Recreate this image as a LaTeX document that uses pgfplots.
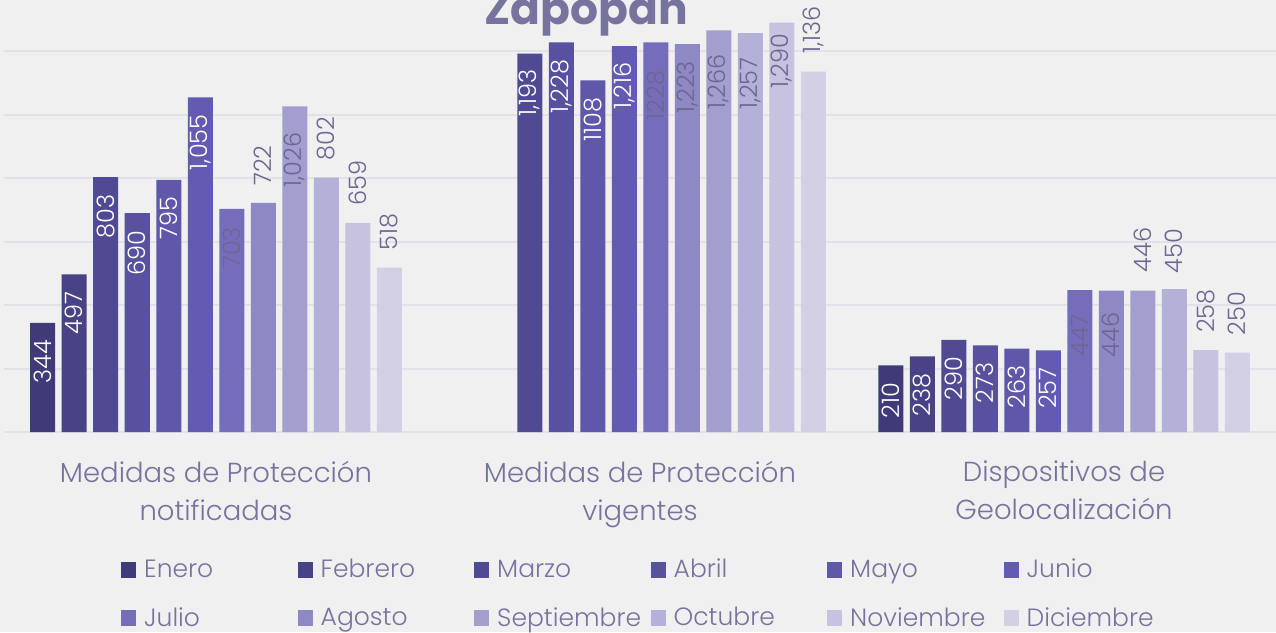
\documentclass[border=0pt]{standalone}
\usepackage{fontspec}
\setmainfont{Poppins}
\newfontfamily\lightfont{Poppins Light}
\usepackage{pgfplots}
\usepackage{pgfplotstable}
\pgfplotsset{compat=1.18}

\definecolor{c1}{HTML}{3F3A78}
\definecolor{c2}{HTML}{484386}
\definecolor{c3}{HTML}{504A93}
\definecolor{c4}{HTML}{57519E}
\definecolor{c5}{HTML}{5E57AA}
\definecolor{c6}{HTML}{635BB2}
\definecolor{c7}{HTML}{756DBA}
\definecolor{c8}{HTML}{8E88C4}
\definecolor{c9}{HTML}{A39ECE}
\definecolor{c10}{HTML}{B4B0D7}
\definecolor{c11}{HTML}{C6C2E0}
\definecolor{c12}{HTML}{D3D0E6}
\definecolor{bg}{HTML}{F0F0F0}
\definecolor{gridc}{HTML}{E2E0E9}
\definecolor{txt}{HTML}{77739F}
\definecolor{labc}{HTML}{6B6790}

\pgfplotsset{ybar legend/.style={legend image code/.code={%
  \fill[##1] (0pt,-9pt) rectangle (15pt,7pt); \path (21pt,0pt);}}}

% x = group (0 notificadas, 1 vigentes, 2 geolocalizacion), s = label offset (<0 inside, >0 above)
\pgfplotstableread{
x y lab s
0 344 344 -17
2 210 210 -17
}\tEne
\pgfplotstableread{
x y lab s
0 497 497 -17
2 238 238 -17
}\tFeb
\pgfplotstableread{
x y lab s
0 803 803 -17
1 1193 1,193 -16
2 290 290 -17
}\tMar
\pgfplotstableread{
x y lab s
0 690 690 -17
1 1228 1,228 -17
2 273 273 -17
}\tAbr
\pgfplotstableread{
x y lab s
0 795 795 -17
1 1108 1108 -17
2 263 263 -17
}\tMay
\pgfplotstableread{
x y lab s
0 1055 1,055 -17
1 1216 1,216 -16
2 257 257 -17
}\tJun
\pgfplotstableread{
x y lab s
0 703 703 -18
1 1228 1228 -28
2 447 447 -24
}\tJul
\pgfplotstableread{
x y lab s
0 722 722 17
1 1223 1,223 -17
2 446 446 -22
}\tAgo
\pgfplotstableread{
x y lab s
0 1026 1,026 -26
1 1266 1,266 -24
2 446 446 18
}\tSep
\pgfplotstableread{
x y lab s
0 802 802 17
1 1257 1,257 -24
2 450 450 16
}\tOct
\pgfplotstableread{
x y lab s
0 659 659 17
1 1290 1,290 -11
2 258 258 17
}\tNov
\pgfplotstableread{
x y lab s
0 518 518 17
1 1136 1,136 18
2 250 250 17
}\tDic

\begin{document}
\begin{tikzpicture}[x=1pt,y=1pt]
\fill[bg] (0,0) rectangle (1276,632);
\begin{axis}[
  at={(4pt,200pt)}, anchor=south west,
  scale only axis, width=1272pt, height=444.15pt,
  xmin=-0.5, xmax=2.5, ymin=0, ymax=1400,
  ybar=6.5pt, bar width=25pt,
  axis line style={draw=none},
  major tick length=0pt,
  ytick={0,200,...,1400}, yticklabels={},
  ymajorgrids, grid style={gridc, line width=2pt},
  xtick={0,1,2},
  xticklabels={{Medidas de Protección\\notificadas},{Medidas de Protección\\vigentes},{Dispositivos de\\Geolocalización}},
  xticklabel style={anchor=north, align=center, text=txt, inner sep=0pt, yshift=-29pt,
    font=\lightfont\fontsize{27.5}{38}\selectfont},
  point meta=explicit symbolic,
  nodes near coords,
  visualization depends on={\thisrow{s} \as \shft},
  nodes near coords style={/utils/exec={\ifdim\shft pt<0pt \def\anc{east}\else\def\anc{west}\fi},
    yshift=\shft pt, rotate=90, anchor=\anc, inner sep=0pt,
    text=labc, font=\lightfont\fontsize{24}{24}\selectfont},
  legend columns=6,
  legend style={at={(axis description cs:0.092,-0.281)}, anchor=north west, draw=none, fill=none,
    inner sep=0pt, row sep=24pt, text=txt, font=\lightfont\fontsize{25}{25}\selectfont,
    /tikz/every even column/.append style={column sep=0pt}},
  legend entries={\makebox[151.5pt][l]{Enero},\makebox[151.5pt][l]{Febrero},\makebox[151.5pt][l]{Marzo},
    \makebox[151.5pt][l]{Abril},\makebox[151.5pt][l]{Mayo},\makebox[151.5pt][l]{Junio},
    \makebox[151.5pt][l]{Julio},\makebox[151.5pt][l]{Agosto},\makebox[151.5pt][l]{Septiembre},
    \makebox[151.5pt][l]{Octubre},\makebox[151.5pt][l]{Noviembre},\makebox[151.5pt][l]{Diciembre}},
]
\addplot[fill=c1, draw=none, every node near coord/.append style={text=white}] table[x=x,y=y,meta=lab] {\tEne};
\addplot[fill=c2, draw=none, every node near coord/.append style={text=white}] table[x=x,y=y,meta=lab] {\tFeb};
\addplot[fill=c3, draw=none, every node near coord/.append style={text=white}] table[x=x,y=y,meta=lab] {\tMar};
\addplot[fill=c4, draw=none, every node near coord/.append style={text=white}] table[x=x,y=y,meta=lab] {\tAbr};
\addplot[fill=c5, draw=none, every node near coord/.append style={text=white}] table[x=x,y=y,meta=lab] {\tMay};
\addplot[fill=c6, draw=none, every node near coord/.append style={text=white}] table[x=x,y=y,meta=lab] {\tJun};
\addplot[fill=c7, draw=none] table[x=x,y=y,meta=lab] {\tJul};
\addplot[fill=c8, draw=none] table[x=x,y=y,meta=lab] {\tAgo};
\addplot[fill=c9, draw=none] table[x=x,y=y,meta=lab] {\tSep};
\addplot[fill=c10, draw=none] table[x=x,y=y,meta=lab] {\tOct};
\addplot[fill=c11, draw=none] table[x=x,y=y,meta=lab] {\tNov};
\addplot[fill=c12, draw=none] table[x=x,y=y,meta=lab] {\tDic};
\end{axis}
\node[anchor=base, text=txt, font=\fontsize{44}{44}\selectfont\bfseries] at (586,607) {Zapopan};
\pgfresetboundingbox
\path[use as bounding box] (0,0) rectangle (1276,632);
\end{tikzpicture}
\end{document}
